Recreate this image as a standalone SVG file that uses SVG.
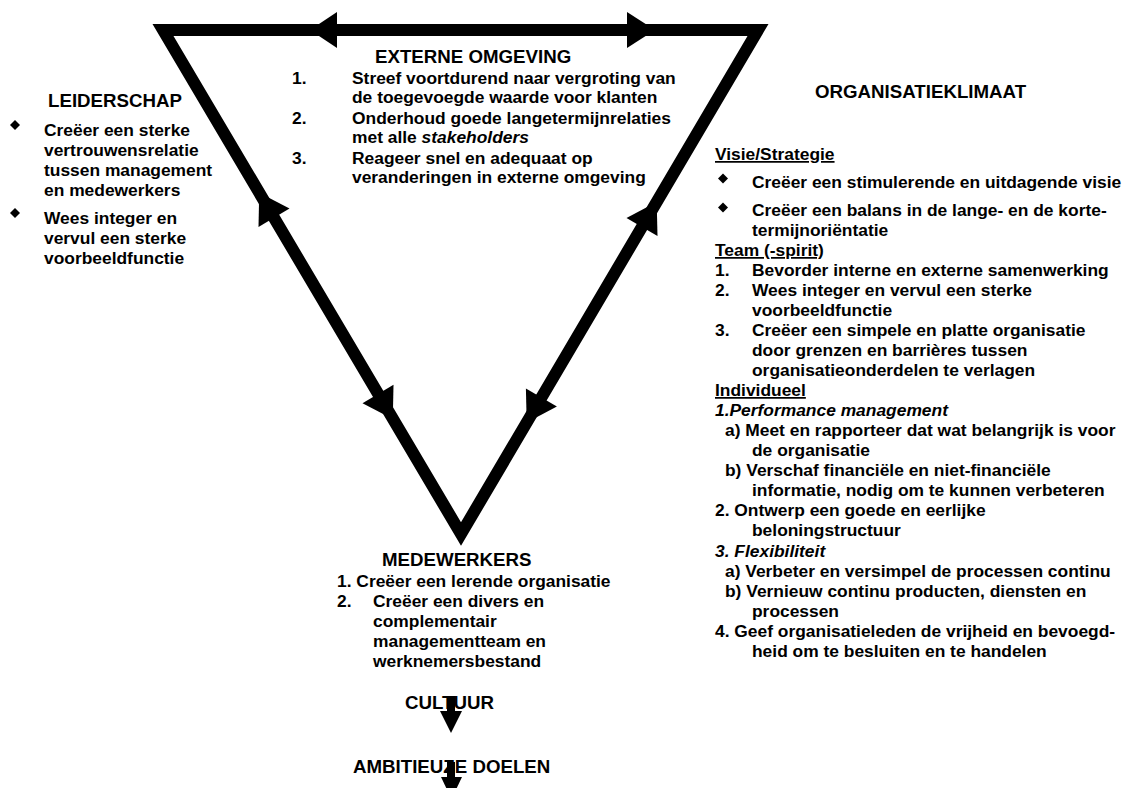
<svg xmlns="http://www.w3.org/2000/svg" width="1125" height="788" viewBox="0 0 1125 788">
<style>
text{font-family:"Liberation Sans",Arial,sans-serif;font-weight:bold;fill:#000}
.h{font-size:18.7px}
.b{font-size:17.4px}
.i{font-style:italic}
.u{text-decoration:underline}
.edge{fill:none;stroke:#000;stroke-width:12;stroke-linejoin:miter;stroke-miterlimit:6}
.head{fill:#000}
</style>
<rect width="1125" height="788" fill="#fff"/>
<g id="connectors">
<path class="edge" d="M163,30 H758 L461,534 Z"/>
<polygon class="head" points="310,30 337,12 337,48"/>
<polygon class="head" points="655,30 627,12 627,48"/>
<polygon class="head" points="259.2,192.7 289.5,208.5 258.5,226.9"/>
<polygon class="head" points="392.8,419 393.5,384.8 362.5,403.2"/>
<polygon class="head" points="656.7,202 657.5,236.1 626.5,217.9"/>
<polygon class="head" points="526.7,422.5 556.9,406.6 525.9,388.4"/>
</g>
<g id="externe-omgeving">
<text class="h" x="375" y="63">EXTERNE OMGEVING</text>
<text class="b" x="292" y="84">1.</text>
<text class="b" x="352" y="84">Streef voortdurend naar vergroting van</text>
<text class="b" x="352" y="103">de toegevoegde waarde voor klanten</text>
<text class="b" x="292" y="124">2.</text>
<text class="b" x="352" y="124">Onderhoud goede langetermijnrelaties</text>
<text class="b" x="352" y="143">met alle <tspan class="i">stakeholders</tspan></text>
<text class="b" x="292" y="164">3.</text>
<text class="b" x="352" y="164">Reageer snel en adequaat op</text>
<text class="b" x="352" y="183">veranderingen in externe omgeving</text>
</g>
<g id="leiderschap">
<text class="h" x="48" y="107">LEIDERSCHAP</text>
<polygon class="head" points="15,120 20,125 15,130 10,125"/>
<text class="b" x="44" y="136">Creëer een sterke</text>
<text class="b" x="44" y="156">vertrouwensrelatie</text>
<text class="b" x="44" y="176">tussen management</text>
<text class="b" x="44" y="196">en medewerkers</text>
<polygon class="head" points="15,208 20,213 15,218 10,213"/>
<text class="b" x="44" y="224">Wees integer en</text>
<text class="b" x="44" y="244">vervul een sterke</text>
<text class="b" x="44" y="264">voorbeeldfunctie</text>
</g>
<g id="organisatieklimaat">
<text class="h" x="815" y="98">ORGANISATIEKLIMAAT</text>
<text class="b u" x="715" y="160">Visie/Strategie</text>
<polygon class="head" points="723,173.5 728,178.5 723,183.5 718,178.5"/>
<text class="b" x="752" y="188">Creëer een stimulerende en uitdagende visie</text>
<polygon class="head" points="723,202.5 728,207.5 723,212.5 718,207.5"/>
<text class="b" x="752" y="216">Creëer een balans in de lange- en de korte-</text>
<text class="b" x="752" y="236">termijnoriëntatie</text>
<text class="b u" x="715" y="256">Team (-spirit)</text>
<text class="b" x="715" y="276">1.</text>
<text class="b" x="752" y="276">Bevorder interne en externe samenwerking</text>
<text class="b" x="715" y="296">2.</text>
<text class="b" x="752" y="296">Wees integer en vervul een sterke</text>
<text class="b" x="752" y="316">voorbeeldfunctie</text>
<text class="b" x="715" y="336">3.</text>
<text class="b" x="752" y="336">Creëer een simpele en platte organisatie</text>
<text class="b" x="752" y="356">door grenzen en barrières tussen</text>
<text class="b" x="752" y="376">organisatieonderdelen te verlagen</text>
<text class="b u" x="715" y="396">Individueel</text>
<text class="b i" x="715" y="416">1.Performance management</text>
<text class="b" x="725" y="436">a) Meet en rapporteer dat wat belangrijk is voor</text>
<text class="b" x="752" y="456">de organisatie</text>
<text class="b" x="725" y="476">b) Verschaf financiële en niet-financiële</text>
<text class="b" x="752" y="496">informatie, nodig om te kunnen verbeteren</text>
<text class="b" x="715" y="516">2. Ontwerp een goede en eerlijke</text>
<text class="b" x="752" y="536">beloningstructuur</text>
<text class="b i" x="715" y="557">3. Flexibiliteit</text>
<text class="b" x="725" y="577">a) Verbeter en versimpel de processen continu</text>
<text class="b" x="725" y="597">b) Vernieuw continu producten, diensten en</text>
<text class="b" x="752" y="617">processen</text>
<text class="b" x="715" y="637">4. Geef organisatieleden de vrijheid en bevoegd-</text>
<text class="b" x="752" y="657">heid om te besluiten en te handelen</text>
</g>
<g id="medewerkers">
<text class="h" x="382" y="566">MEDEWERKERS</text>
<text class="b" x="337" y="586.5">1. Creëer een lerende organisatie</text>
<text class="b" x="337" y="606.5">2.</text>
<text class="b" x="373" y="606.5">Creëer een divers en</text>
<text class="b" x="373" y="626.5">complementair</text>
<text class="b" x="373" y="646.5">managementteam en</text>
<text class="b" x="373" y="666.5">werknemersbestand</text>
</g>
<g id="cultuur">
<text class="h" x="405" y="709">CULTUUR</text>
</g>
<g id="ambitieuze-doelen">
<text class="h" x="353" y="773">AMBITIEUZE DOELEN</text>
</g>
<g id="down-arrows">
<rect x="447" y="696" width="8" height="16" fill="#000"/>
<polygon class="head" points="440,711 462,711 451,733"/>
<rect x="447" y="762" width="8" height="16" fill="#000"/>
<polygon class="head" points="441,777 462,777 451.5,799"/>
</g>
</svg>
